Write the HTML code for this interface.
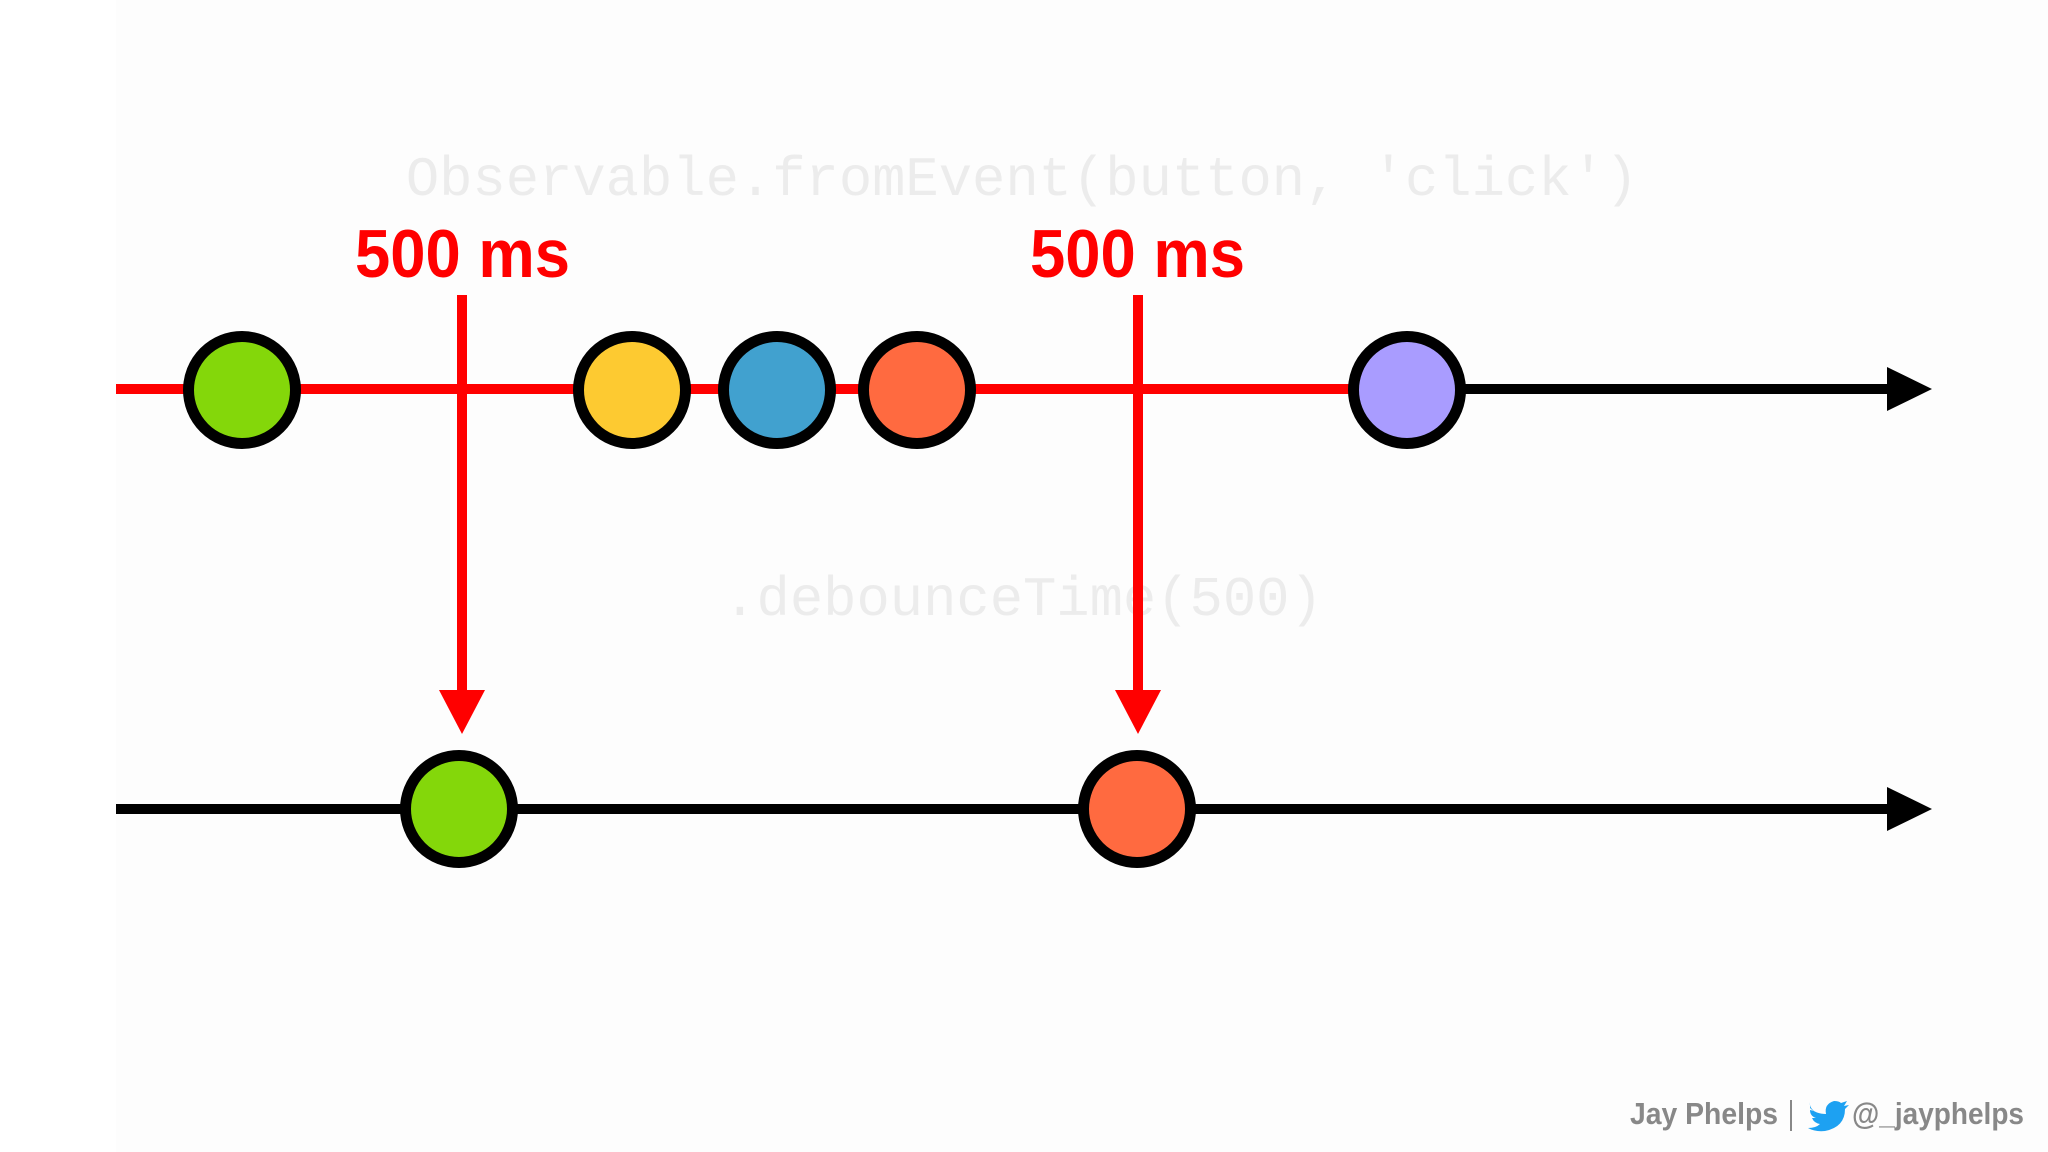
<!DOCTYPE html>
<html><head><style>
html,body{margin:0;padding:0;background:#fff;}
svg{display:block}
</style></head><body>
<svg width="2048" height="1152" viewBox="0 0 2048 1152" xmlns="http://www.w3.org/2000/svg">
<rect x="0" y="0" width="2048" height="1152" fill="#ffffff"/>
<rect x="116" y="0" width="1932" height="1152" fill="#fdfdfd"/>
<text x="1022" y="195" text-anchor="middle" font-family="Liberation Mono, monospace" font-size="55.5" fill="#ececec">Observable.fromEvent(button, 'click')</text>
<text x="1023" y="615" text-anchor="middle" font-family="Liberation Mono, monospace" font-size="55.5" fill="#ececec">.debounceTime(500)</text>
<text x="355" y="277" font-family="Liberation Sans, sans-serif" font-weight="bold" font-size="68" fill="#ff0000" textLength="215" lengthAdjust="spacingAndGlyphs">500 ms</text>
<text x="1030" y="277" font-family="Liberation Sans, sans-serif" font-weight="bold" font-size="68" fill="#ff0000" textLength="215" lengthAdjust="spacingAndGlyphs">500 ms</text>
<line x1="116" y1="389" x2="1352" y2="389" stroke="#ff0000" stroke-width="10"/>
<line x1="1352" y1="389" x2="1890" y2="389" stroke="#000" stroke-width="10"/>
<polygon points="1887,367 1932,389 1887,411" fill="#000"/>
<line x1="116" y1="809" x2="1890" y2="809" stroke="#000" stroke-width="10"/>
<polygon points="1887,787 1932,809 1887,831" fill="#000"/>
<line x1="462" y1="295" x2="462" y2="695" stroke="#ff0000" stroke-width="10"/>
<polygon points="439,690 485,690 462,734" fill="#ff0000"/>
<line x1="1138" y1="295" x2="1138" y2="695" stroke="#ff0000" stroke-width="10"/>
<polygon points="1115,690 1161,690 1138,734" fill="#ff0000"/>
<g stroke="#000" stroke-width="11">
<circle cx="242" cy="390" r="53.5" fill="#84d70a"/>
<circle cx="632" cy="390" r="53.5" fill="#fdca31"/>
<circle cx="777" cy="390" r="53.5" fill="#41a1cf"/>
<circle cx="917" cy="390" r="53.5" fill="#ff6a40"/>
<circle cx="1407" cy="390" r="53.5" fill="#a99cff"/>
<circle cx="459" cy="809" r="53.5" fill="#84d70a"/>
<circle cx="1137" cy="809" r="53.5" fill="#ff6a40"/>
</g>
<text x="1630" y="1124" font-family="Liberation Sans, sans-serif" font-weight="bold" font-size="31" fill="#888" textLength="148" lengthAdjust="spacingAndGlyphs">Jay Phelps</text>
<line x1="1791" y1="1100" x2="1791" y2="1131" stroke="#888" stroke-width="2"/>
<path d="M1810,1108 q6,6 16,6 q-2,-10 8,-13 q5,0 7,2 l6,-2 l-3,5 l5,-1 l-4,4 q0,18 -20,22 q-10,1 -17,-3 q8,0 12,-4 q-6,-1 -8,-6 l4,0 q-6,-2 -6,-8 l4,1 q-5,-4 -4,-9z" fill="#1da1f2"/>
<text x="1852" y="1124" font-family="Liberation Sans, sans-serif" font-weight="bold" font-size="31" fill="#888" textLength="172" lengthAdjust="spacingAndGlyphs">@_jayphelps</text>
</svg>
</body></html>
